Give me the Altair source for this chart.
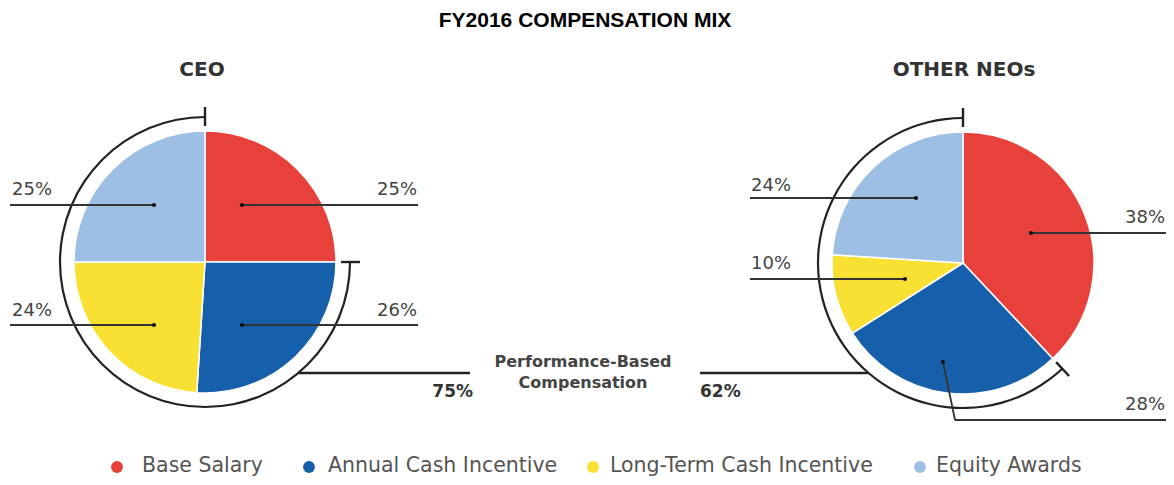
import altair as alt
import numpy as np
import pandas as pd

# ---------------- data ----------------
title_text = "FY2016 COMPENSATION MIX"
categories = ["Base Salary", "Annual Cash Incentive", "Long-Term Cash Incentive", "Equity Awards"]
colors = ["#E8403A", "#1660AB", "#F9E133", "#9DBFE3"]
panels = ["CEO", "OTHER NEOs"]
ceo_values = [25, 26, 24, 25]
neo_values = [38, 28, 10, 24]
perf_values = [75, 62]
perf_text = ["Performance-Based", "Compensation"]

# ---------------- layout (page pixel coordinates) ----------------
W, H = 1158, 469
centers = {"CEO": (205, 262), "OTHER NEOs": (963, 263)}
R = 131
BR = 145
TICK_IN, TICK_OUT = 136, 155
DARK = "#222222"
GREY = "#444444"

xs = alt.Scale(domain=[8, 8 + W], nice=False, zero=False)
ys = alt.Scale(domain=[8, 8 + H], nice=False, zero=False, reverse=True)
X = lambda f: alt.X(f, scale=xs, axis=None)
Y = lambda f: alt.Y(f, scale=ys, axis=None)

values = {"CEO": ceo_values, "OTHER NEOs": neo_values}
perf = dict(zip(panels, perf_values))

# pie table
rows = []
for p in panels:
    cx, cy = centers[p]
    cum = 0
    for c, v in zip(categories, values[p]):
        rows.append(dict(panel=p, category=c, start=cum, end=cum + v, cx=cx, cy=cy))
        cum += v
pie_df = pd.DataFrame(rows)

theta_scale = alt.Scale(domain=[0, 100], range=[0, 2 * np.pi])
color_scale = alt.Scale(domain=categories, range=colors)

pies = alt.Chart(pie_df).mark_arc(radius=R, stroke="white", strokeWidth=1.5).encode(
    x=X("cx:Q"), y=Y("cy:Q"),
    theta=alt.Theta("start:Q", scale=theta_scale),
    theta2="end:Q",
    color=alt.Color("category:N", scale=color_scale, legend=None),
)

# bracket arcs (performance based part)
br_df = pd.DataFrame([
    dict(panel=p, start=100 - perf[p], end=100, cx=centers[p][0], cy=centers[p][1]) for p in panels
])
brackets = alt.Chart(br_df).mark_arc(radius=BR + 1.1, radius2=BR - 1.1, color=DARK).encode(
    x=X("cx:Q"), y=Y("cy:Q"),
    theta=alt.Theta("start:Q", scale=theta_scale),
    theta2="end:Q",
)

def pol(p, pct, r):
    cx, cy = centers[p]
    a = pct / 100 * 2 * np.pi
    return cx + r * np.sin(a), cy - r * np.cos(a)

segs = []
for p in panels:
    for pct in (100 - perf[p], 100):
        x1, y1 = pol(p, pct, TICK_IN)
        x2, y2 = pol(p, pct, TICK_OUT)
        segs.append(dict(x=x1, y=y1, x2=x2, y2=y2, w="thick"))

# performance leader lines
PERF_Y = 373
for p, xend in zip(panels, [470, 700]):
    cx, cy = centers[p]
    dx = np.sqrt(BR ** 2 - (PERF_Y - cy) ** 2)
    xa = cx + dx if p == "CEO" else cx - dx
    segs.append(dict(x=xa, y=PERF_Y, x2=xend, y2=PERF_Y, w="thick"))

# slice label leaders
label_layout = {
    ("CEO", "Base Salary"): dict(dot=(242, 205), path=[(418, 205)], text=(417, 190, "right")),
    ("CEO", "Annual Cash Incentive"): dict(dot=(242, 325), path=[(418, 325)], text=(417, 311, "right")),
    ("CEO", "Long-Term Cash Incentive"): dict(dot=(154, 325), path=[(10, 325)], text=(12, 311, "left")),
    ("CEO", "Equity Awards"): dict(dot=(154, 205), path=[(10, 205)], text=(12, 190, "left")),
    ("OTHER NEOs", "Base Salary"): dict(dot=(1031, 233), path=[(1166, 233)], text=(1165, 218, "right")),
    ("OTHER NEOs", "Annual Cash Incentive"): dict(dot=(943, 362), path=[(955, 420), (1166, 420)], text=(1165, 405, "right")),
    ("OTHER NEOs", "Long-Term Cash Incentive"): dict(dot=(905, 279), path=[(750, 279)], text=(751, 264, "left")),
    ("OTHER NEOs", "Equity Awards"): dict(dot=(916, 198), path=[(750, 198)], text=(751, 186, "left")),
}
dots, labels = [], []
for p in panels:
    for c, v in zip(categories, values[p]):
        L = label_layout[(p, c)]
        pts = [L["dot"]] + L["path"]
        for (a, b), (cc, d) in zip(pts[:-1], pts[1:]):
            segs.append(dict(x=a, y=b, x2=cc, y2=d, w="thin"))
        dots.append(dict(x=L["dot"][0], y=L["dot"][1]))
        labels.append(dict(x=L["text"][0], y=L["text"][1], side=L["text"][2], label=f"{v}%"))

seg_df = pd.DataFrame(segs)
thick = alt.Chart(seg_df[seg_df["w"] == "thick"]).mark_rule(color=DARK, strokeWidth=2.4).encode(
    x=X("x:Q"), y=Y("y:Q"), x2="x2:Q", y2="y2:Q")
thin = alt.Chart(seg_df[seg_df["w"] == "thin"]).mark_rule(color="#333333", strokeWidth=1.8).encode(
    x=X("x:Q"), y=Y("y:Q"), x2="x2:Q", y2="y2:Q")
dot_layer = alt.Chart(pd.DataFrame(dots)).mark_circle(size=18, color="#111111", opacity=1).encode(
    x=X("x:Q"), y=Y("y:Q"))

lab_df = pd.DataFrame(labels)
lab_font = dict(font="DejaVu Sans", fontSize=18, color=GREY, baseline="middle")
lab_left = alt.Chart(lab_df[lab_df["side"] == "left"]).mark_text(align="left", **lab_font).encode(
    x=X("x:Q"), y=Y("y:Q"), text="label:N")
lab_right = alt.Chart(lab_df[lab_df["side"] == "right"]).mark_text(align="right", **lab_font).encode(
    x=X("x:Q"), y=Y("y:Q"), text="label:N")

# performance totals
perf_df = pd.DataFrame([
    dict(x=473, y=392, label=f"{perf['CEO']}%", side="right"),
    dict(x=700, y=392, label=f"{perf['OTHER NEOs']}%", side="left"),
])
pf = dict(font="DejaVu Sans", fontSize=17, fontWeight="bold", color="#333333", baseline="middle")
perf_r = alt.Chart(perf_df[perf_df["side"] == "right"]).mark_text(align="right", **pf).encode(
    x=X("x:Q"), y=Y("y:Q"), text="label:N")
perf_l = alt.Chart(perf_df[perf_df["side"] == "left"]).mark_text(align="left", **pf).encode(
    x=X("x:Q"), y=Y("y:Q"), text="label:N")

perf_title = alt.Chart(pd.DataFrame(dict(x=[583, 583], y=[362, 383], label=perf_text))).mark_text(
    align="center", baseline="middle", font="DejaVu Sans", fontSize=16, fontWeight="bold", color=GREY
).encode(x=X("x:Q"), y=Y("y:Q"), text="label:N")

# panel titles
pt_df = pd.DataFrame(dict(x=[202, 964], y=[70, 70], label=panels))
panel_titles = alt.Chart(pt_df).mark_text(
    align="center", baseline="middle", font="DejaVu Sans", fontSize=20, fontWeight="bold", color="#333333"
).encode(x=X("x:Q"), y=Y("y:Q"), text="label:N")

# main title
main_title = alt.Chart(pd.DataFrame(dict(x=[585], y=[21], label=[title_text]))).mark_text(
    align="center", baseline="middle", font="Liberation Sans", fontSize=21, fontWeight="bold", color="#000000"
).encode(x=X("x:Q"), y=Y("y:Q"), text="label:N")

# legend
leg_df = pd.DataFrame(dict(category=categories, x=[117, 309, 593, 920], tx=[142, 328, 610, 936],
                           y=[467] * 4, ty=[466] * 4))
leg_dots = alt.Chart(leg_df).mark_circle(size=140, opacity=1).encode(
    x=X("x:Q"), y=Y("y:Q"), color=alt.Color("category:N", scale=color_scale, legend=None))
leg_text = alt.Chart(leg_df).mark_text(
    align="left", baseline="middle", font="DejaVu Sans", fontSize=20.5, color="#555555"
).encode(x=X("tx:Q"), y=Y("ty:Q"), text="category:N")

chart = alt.layer(
    pies, brackets, thick, thin, dot_layer, lab_left, lab_right, perf_r, perf_l,
    perf_title, panel_titles, main_title, leg_dots, leg_text
).properties(
    width=W, height=H, autosize=alt.AutoSizeParams(type="none"), padding=0
).configure_view(stroke=None)

chart.save("out.html", embed_options={"renderer": "svg", "actions": False})
